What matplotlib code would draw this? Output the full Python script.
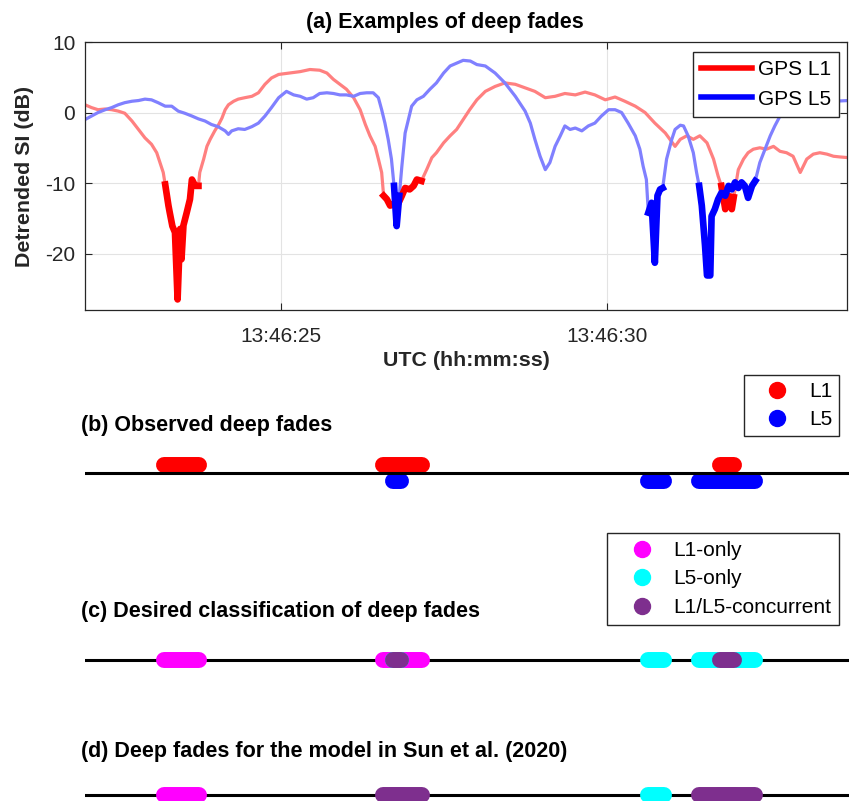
import numpy as np
import matplotlib.pyplot as plt
from matplotlib.lines import Line2D

plt.rcParams['font.family'] = ['Liberation Sans', 'DejaVu Sans']
plt.rcParams['axes.unicode_minus'] = False

# --- data: detrended SI, time in seconds after 13:46:00 UTC ---
t_l1 = np.array([22.00, 22.10, 22.20, 22.31, 22.41, 22.51, 22.61, 22.72, 22.82, 22.92,
                 23.02, 23.10, 23.15, 23.20, 23.23, 23.28, 23.30, 23.34, 23.38, 23.42,
                 23.46, 23.48, 23.51, 23.56, 23.61, 23.64, 23.69, 23.74, 23.76, 23.82,
                 23.87, 23.92, 23.99, 24.05, 24.10, 24.15, 24.20, 24.28, 24.35, 24.45,
                 24.56, 24.66, 24.76, 24.86, 24.97, 25.14, 25.30, 25.45, 25.60, 25.71,
                 25.81, 25.91, 26.01, 26.12, 26.22, 26.30, 26.37, 26.45, 26.50, 26.55,
                 26.58, 26.63, 26.68, 26.73, 26.81, 26.86, 26.91, 26.98, 27.04, 27.09,
                 27.16, 27.24, 27.32, 27.39, 27.50, 27.60, 27.70, 27.80, 27.90, 28.01,
                 28.14, 28.29, 28.44, 28.60, 28.75, 28.90, 29.06, 29.21, 29.36, 29.52,
                 29.67, 29.82, 29.98, 30.13, 30.28, 30.44, 30.59, 30.74, 30.90, 31.05,
                 31.13, 31.23, 31.33, 31.43, 31.54, 31.64, 31.71, 31.76, 31.82, 31.87,
                 31.92, 31.95, 32.02, 32.10, 32.17, 32.25, 32.35, 32.45, 32.56, 32.66,
                 32.76, 32.86, 32.97, 33.07, 33.17, 33.27, 33.38, 33.48, 33.58, 33.71])
si_l1 = np.array([1.1, 0.7, 0.4, 0.5, 0.4, 0.2, -0.1, -1.2, -2.4, -3.6,
                  -4.5, -5.7, -7.1, -8.5, -10.2, -13.2, -14.2, -16.1, -17.0, -26.5,
                  -16.5, -20.8, -16.0, -14.2, -12.3, -9.5, -10.4, -10.4, -8.5, -6.6,
                  -4.8, -3.8, -2.6, -1.7, -0.8, 0.4, 1.1, 1.6, 1.9, 2.1,
                  2.3, 2.8, 4.0, 4.9, 5.4, 5.6, 5.8, 6.1, 6.0, 5.6,
                  4.7, 4.0, 3.3, 2.1, 0.4, -1.7, -3.3, -4.8, -6.6, -8.5,
                  -11.8, -12.3, -13.2, -13.0, -12.8, -11.8, -10.7, -10.9, -10.4, -9.5,
                  -9.7, -8.1, -6.4, -5.7, -4.3, -3.3, -2.4, -1.0, 0.4, 1.8,
                  3.0, 3.7, 4.2, 4.0, 3.5, 3.0, 2.1, 2.3, 2.7, 2.5,
                  2.9, 2.5, 1.8, 2.2, 1.6, 0.9, 0.0, -1.5, -2.9, -4.8,
                  -3.8, -3.3, -3.8, -3.3, -4.3, -6.6, -9.0, -10.4, -13.7, -11.8,
                  -13.7, -12.0, -8.1, -6.6, -5.7, -5.2, -5.0, -5.2, -4.8, -5.5,
                  -5.7, -6.2, -8.5, -6.6, -5.9, -5.7, -5.9, -6.2, -6.3, -6.4])

t_l5 = np.array([22.00, 22.10, 22.20, 22.31, 22.41, 22.51, 22.61, 22.72, 22.82, 22.92,
                 23.02, 23.12, 23.23, 23.33, 23.43, 23.53, 23.64, 23.74, 23.84, 23.94,
                 24.04, 24.15, 24.20, 24.25, 24.35, 24.45, 24.56, 24.66, 24.76, 24.86,
                 24.97, 25.09, 25.20, 25.30, 25.40, 25.50, 25.60, 25.71, 25.81, 25.91,
                 26.01, 26.12, 26.22, 26.32, 26.42, 26.50, 26.55, 26.60, 26.65, 26.70,
                 26.74, 26.78, 26.82, 26.86, 26.91, 26.96, 27.01, 27.09, 27.19, 27.29,
                 27.39, 27.50, 27.60, 27.70, 27.80, 27.91, 28.01, 28.14, 28.29, 28.44,
                 28.60, 28.75, 28.83, 28.90, 28.98, 29.06, 29.13, 29.21, 29.29, 29.36,
                 29.44, 29.52, 29.62, 29.72, 29.82, 29.92, 30.03, 30.13, 30.23, 30.33,
                 30.44, 30.51, 30.56, 30.61, 30.64, 30.69, 30.74, 30.78, 30.82, 30.86,
                 30.92, 31.00, 31.05, 31.13, 31.18, 31.25, 31.33, 31.38, 31.42, 31.46,
                 31.51, 31.54, 31.59, 31.61, 31.66, 31.71, 31.76, 31.82, 31.87, 31.92,
                 31.97, 32.02, 32.07, 32.12, 32.17, 32.23, 32.28, 32.35, 32.43, 32.51,
                 32.58, 32.66, 32.74, 32.81, 33.12, 33.48, 33.71])
si_l5 = np.array([-1.0, -0.5, 0.0, 0.4, 0.7, 1.1, 1.4, 1.6, 1.7, 1.9,
                  1.8, 1.4, 0.9, 0.9, 0.2, -0.1, -0.5, -0.9, -1.2, -1.7,
                  -2.0, -2.6, -3.1, -2.6, -2.3, -2.4, -2.0, -1.5, -0.5, 0.7,
                  2.1, 3.0, 2.5, 2.3, 1.9, 2.1, 2.7, 2.8, 2.7, 2.5,
                  2.5, 2.3, 2.7, 2.8, 2.8, 2.1, 0.4, -1.5, -3.8, -6.6,
                  -10.4, -16.1, -11.8, -7.6, -2.9, -1.0, 0.9, 1.8, 2.3, 3.3,
                  4.2, 5.6, 6.6, 7.0, 7.4, 7.3, 6.8, 6.6, 5.6, 4.2,
                  2.3, 0.2, -1.5, -3.8, -6.2, -8.1, -7.1, -4.8, -3.3, -1.9,
                  -2.4, -2.2, -2.6, -1.9, -1.5, -0.5, 0.4, 0.4, 0.0, -1.5,
                  -3.3, -5.2, -7.6, -9.5, -14.2, -12.8, -21.3, -11.8, -10.9, -10.7,
                  -6.6, -3.8, -2.4, -1.8, -1.9, -3.3, -5.7, -8.5, -10.4, -13.2,
                  -18.9, -23.1, -23.1, -14.7, -13.7, -12.3, -11.4, -11.8, -10.4, -10.9,
                  -9.9, -10.7, -9.9, -10.4, -12.1, -10.4, -9.7, -7.1, -5.2, -3.3,
                  -1.9, -0.5, 0.9, 1.8, 1.6, 1.6, 1.7])

# deep fade intervals (start, end) in seconds
fades_l1 = [(23.21, 23.75), (26.57, 27.17), (31.74, 31.95)]
fades_l5 = [(26.72, 26.85), (30.64, 30.88), (31.42, 32.28)]

xtick_pos = [25, 30]
xtick_labels = ['13:46:25', '13:46:30']
ytick_pos = [-20, -10, 0, 10]

RED, BLUE = (1, 0, 0), (0, 0, 1)
MAGENTA, CYAN, PURPLE = (1, 0, 1), (0, 1, 1), (0.494, 0.184, 0.556)
AXC = '#262626'

W, H = 849, 801
fig = plt.figure(figsize=(W / 100, H / 100), dpi=100)


def fx(px):
    return px / W


def fy(py):
    return 1 - py / H


def overlaps(a, b):
    out = []
    for s1, e1 in a:
        for s2, e2 in b:
            s, e = max(s1, s2), min(e1, e2)
            if s < e:
                out.append((s, e))
    return out


def touches(iv, others):
    return any(min(iv[1], e) > max(iv[0], s) for s, e in others)


# --- (a) time series ---
ax = fig.add_axes([fx(85), fy(310), fx(847) - fx(85), fy(42) - fy(310)])
ax.plot(t_l1, si_l1, color='#ff8080', lw=2.3)
ax.plot(t_l5, si_l5, color='#8080ff', lw=2.3)
for s, e in fades_l1:
    m = (t_l1 >= s) & (t_l1 <= e)
    ax.plot(t_l1[m], si_l1[m], color=RED, lw=4.8)
for s, e in fades_l5:
    m = (t_l5 >= s) & (t_l5 <= e)
    ax.plot(t_l5[m], si_l5[m], color=BLUE, lw=4.8)

ax.set_xlim(22, 22 + 762 / 65.2)
ax.set_ylim(-28, 10)
ax.set_xticks(xtick_pos)
ax.set_xticklabels(xtick_labels)
ax.set_yticks(ytick_pos)
ax.tick_params(direction='in', length=5, width=0.8, colors=AXC, labelsize=15,
               top=True, right=True)
ax.tick_params(axis='x', pad=12)
ax.tick_params(axis='y', pad=7)
ax.grid(True, color='#e3e3e3', lw=0.8)
ax.set_axisbelow(True)
for sp in ax.spines.values():
    sp.set_color(AXC)
    sp.set_linewidth(0.9)
ax.set_title('(a) Examples of deep fades', fontsize=15.5, fontweight='bold', pad=10,
             x=0.472)
ax.set_xlabel('UTC (hh:mm:ss)', fontsize=15.4, fontweight='bold', color=AXC, labelpad=4)
ax.set_ylabel('Detrended SI (dB)', fontsize=15.4, fontweight='bold', color=AXC,
              labelpad=8)

leg_a = [Line2D([], [], color=RED, lw=4), Line2D([], [], color=BLUE, lw=4)]
ax.legend(leg_a, ['GPS L1', 'GPS L5'], loc='upper right',
          bbox_to_anchor=(fx(839), fy(52)), bbox_transform=fig.transFigure,
          fontsize=15, handlelength=2.45, handletextpad=0.25, borderpad=0.4,
          labelspacing=0.5, borderaxespad=0, fancybox=False, framealpha=1,
          edgecolor=AXC)


# --- lower timelines ---
def timeline(center_px, line_on_top):
    a = fig.add_axes([fx(85), fy(center_px + 27), fx(849) - fx(85), 54 / H])
    a.set_xlim(22, 22 + 764 / 65.2)
    a.set_ylim(-1, 1)
    a.axis('off')
    a.axhline(0, color='k', lw=2.2, zorder=5 if line_on_top else 1)
    return a


def bar(a, iv, y, color):
    a.plot(list(iv), [y, y], color=color, lw=11.5, solid_capstyle='round',
           clip_on=False, zorder=3)


def marker_legend(a, colors, labels, top_right, pad):
    hs = [Line2D([], [], marker='o', ls='none', ms=11.5, color=c) for c in colors]
    a.legend(hs, labels, loc='upper right', bbox_to_anchor=top_right,
             bbox_transform=fig.transFigure, fontsize=15, numpoints=1,
             handlelength=2.55, handletextpad=0.24, borderpad=pad,
             labelspacing=0.46, borderaxespad=0, fancybox=False,
             framealpha=1, edgecolor=AXC)


# (b) observed
ax_b = timeline(473, True)
for iv in fades_l1:
    bar(ax_b, iv, 0.31, RED)
for iv in fades_l5:
    bar(ax_b, iv, -0.29, BLUE)
fig.text(fx(81), fy(426), '(b) Observed deep fades', fontsize=15.5,
         fontweight='bold', va='center')
marker_legend(ax_b, [RED, BLUE], ['L1', 'L5'], (fx(839), fy(375)), 0.33)

# (c) desired classification
ax_c = timeline(660, False)
for iv in fades_l1:
    bar(ax_c, iv, 0, MAGENTA)
for iv in fades_l5:
    bar(ax_c, iv, 0, CYAN)
for iv in overlaps(fades_l1, fades_l5):
    bar(ax_c, iv, 0, PURPLE)
fig.text(fx(81), fy(612), '(c) Desired classification of deep fades', fontsize=15.5,
         fontweight='bold', va='center')
marker_legend(ax_c, [MAGENTA, CYAN, PURPLE], ['L1-only', 'L5-only', 'L1/L5-concurrent'],
              (fx(839), fy(533)), 0.38)

# (d) event based model
ax_d = timeline(795, False)
for iv in fades_l1:
    bar(ax_d, iv, 0, PURPLE if touches(iv, fades_l5) else MAGENTA)
for iv in fades_l5:
    bar(ax_d, iv, 0, PURPLE if touches(iv, fades_l1) else CYAN)
fig.text(fx(81), fy(752), '(d) Deep fades for the model in Sun et al. (2020)',
         fontsize=15.5, fontweight='bold', va='center')

fig.savefig('out.png', dpi=100)
